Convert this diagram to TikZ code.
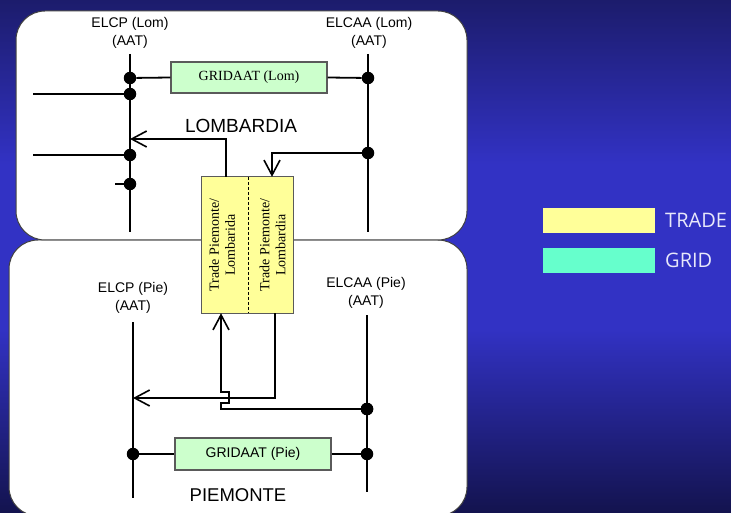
\documentclass[tikz,border=0pt]{standalone}
\usepackage{fontspec}
\setmainfont{Liberation Serif}
\setsansfont{Liberation Sans}
\newfontfamily\legendfont{Open Sans}
\usetikzlibrary{arrows.meta,calc}

\definecolor{bgtop}{HTML}{1C1C6C}
\definecolor{bgmid}{HTML}{3232C4}
\definecolor{bgbot}{HTML}{13134E}
\definecolor{tradefill}{HTML}{FFFF99}
\definecolor{gridfill}{HTML}{CCFFCC}
\definecolor{legtrade}{HTML}{FFFF99}
\definecolor{leggrid}{HTML}{66FFCC}
\definecolor{legtext}{HTML}{E8E8FA}
\definecolor{edgegrey}{HTML}{5A5A5A}

\pgfdeclareverticalshading{backdrop}{100bp}{color(0bp)=(bgbot); color(25bp)=(bgbot); color(43bp)=(bgmid); color(59bp)=(bgmid); color(75bp)=(bgtop); color(100bp)=(bgtop)}

\tikzset{
  panel/.style={fill=white, draw=black!75, line width=1pt, rounded corners=29pt},
  bus/.style={line width=1.8pt, black},
  conn/.style={line width=1.8pt, black},
  flow/.style={conn, -{Straight Barb[length=15pt, width=16pt, line width=1.6pt]}},
  dot/.style={circle, fill=black, inner sep=0pt, minimum size=12.5pt},
  gridbox/.style={draw=edgegrey, line width=1.3pt, fill=gridfill, minimum width=156pt, minimum height=31pt, inner sep=0pt},
  tradehalf/.style={fill=tradefill, inner sep=0pt, minimum height=136pt},
  tradetext/.style={rotate=90, align=center, font=\rmfamily\fontsize{14}{16}\selectfont, inner sep=0pt},
  lbl/.style={align=center, font=\sffamily\fontsize{14}{18}\selectfont, inner sep=0pt},
  region/.style={font=\sffamily\fontsize{19}{22}\selectfont, inner sep=0pt},
  legbox/.style={minimum width=112pt, minimum height=25pt, inner sep=0pt},
  legtxt/.style={anchor=west, text=legtext, font=\legendfont\fontsize{20}{24}\selectfont, inner sep=0pt}
}

\begin{document}
\begin{tikzpicture}[x=1pt, y=-1pt]
\useasboundingbox (0,0) rectangle (731,513);
\shade[shading=backdrop] (0,0) rectangle (731,513);

% the two regions
\draw[panel] (9,240) rectangle (467,516);
\draw[panel] (16,11) rectangle (467,240);

% ---------------- Lombardia ----------------
\node[lbl] (elcpLom) at (130,33) {ELCP (Lom)\\(AAT)};
\node[lbl] (elcaaLom) at (369,33) {ELCAA (Lom)\\(AAT)};
\coordinate (lomLtop) at (130,54);
\coordinate (lomLbot) at (130,232);
\coordinate (lomRtop) at (368,54);
\coordinate (lomRbot) at (368,232);
\draw[bus] (lomLtop) -- (lomLbot);
\draw[bus] (lomRtop) -- (lomRbot);

\node[dot] (dLomL1) at (130,78) {};
\node[dot] (dLomL2) at (130,94) {};
\node[dot] (dLomL3) at (130,155) {};
\node[dot] (dLomL4) at (130,184) {};
\node[dot] (dLomR1) at (368,78) {};
\node[dot] (dLomR2) at (368,153) {};

\node[gridbox, font=\rmfamily\fontsize{14}{16}\selectfont] (gridLom) at (249,77.5) {GRIDAAT (Lom)};
\draw[conn] (dLomL1) -- (gridLom.west);
\draw[conn] (gridLom.east) -- (dLomR1);

\coordinate (feedA) at (33,94);
\coordinate (feedB) at (33,155);
\coordinate (feedC) at (115,184);
\draw[conn] (feedA) -- (dLomL2);
\draw[conn] (feedB) -- (dLomL3);
\draw[conn] (feedC) -- (dLomL4);

\node[region] (lomName) at (241,126) {LOMBARDIA};

% ---------------- Piemonte ----------------
\node[lbl] (elcpPie) at (133,298) {ELCP (Pie)\\(AAT)};
\node[lbl] (elcaaPie) at (366,293) {ELCAA (Pie)\\(AAT)};
\coordinate (pieLtop) at (133,322);
\coordinate (pieLbot) at (133,498);
\coordinate (pieRtop) at (367,315);
\coordinate (pieRbot) at (367,492);
\draw[bus] (pieLtop) -- (pieLbot);
\draw[bus] (pieRtop) -- (pieRbot);

\node[dot] (dPieL1) at (133,454) {};
\node[dot] (dPieR1) at (367,454) {};
\node[dot] (dPieR2) at (367,409) {};

\node[gridbox, minimum height=32pt, font=\sffamily\fontsize{14}{16}\selectfont] (gridPie) at (253,454) {GRIDAAT (Pie)};
\draw[conn] (dPieL1) -- (gridPie.west);
\draw[conn] (gridPie.east) -- (dPieR1);

\node[region, font=\sffamily\fontsize{18.5}{22}\selectfont] (pieName) at (238,495) {PIEMONTE};

% ---------------- trade block ----------------
\node[tradehalf, minimum width=46pt] (tradeL) at (225,245) {};
\node[tradehalf, minimum width=45pt] (tradeR) at (270.5,245) {};
\draw[edgegrey, line width=1.3pt] (tradeL.north west) rectangle (tradeR.south east);
\draw[black, line width=1.2pt, dash pattern=on 3pt off 2pt] (tradeL.north east) -- (tradeL.south east);
\node[tradetext] (tradeLtxt) at ($(tradeL.center)+(-3,0)$) {Trade Piemonte/\\Lombarida};
\node[tradetext] (tradeRtxt) at ($(tradeR.center)+(2,0)$) {Trade Piemonte/\\Lombardia};

% trade flows
\coordinate (lomIn) at (130,139);
\draw[flow] ($(tradeL.north)+(1,0)$) |- (lomIn);
\draw[flow] (dLomR2) -| ($(tradeR.north)+(1.5,0)$);

\coordinate (pieIn) at (133,398);
\draw[flow] ($(tradeR.south)+(4.5,0)$) |- (pieIn);
\coordinate (tIn) at ($(tradeL.south)+(-4,0)$);
\draw[flow] (dPieR2.center) -- (dPieR2.center -| tIn) -- ++(0,-6) -- ++(8,0) -- ++(0,-11) -- ++(-8,0) -- (tIn);
\node[dot] at (dPieR2) {};

% ---------------- legend ----------------
\node[legbox, fill=legtrade] (legTrade) at (599,220.5) {};
\node[legbox, fill=leggrid] (legGrid) at (599,260.5) {};
\node[legtxt] (legTradeTxt) at (665,220.5) {TRADE};
\node[legtxt] (legGridTxt) at (665,260.5) {GRID};
\end{tikzpicture}
\end{document}
